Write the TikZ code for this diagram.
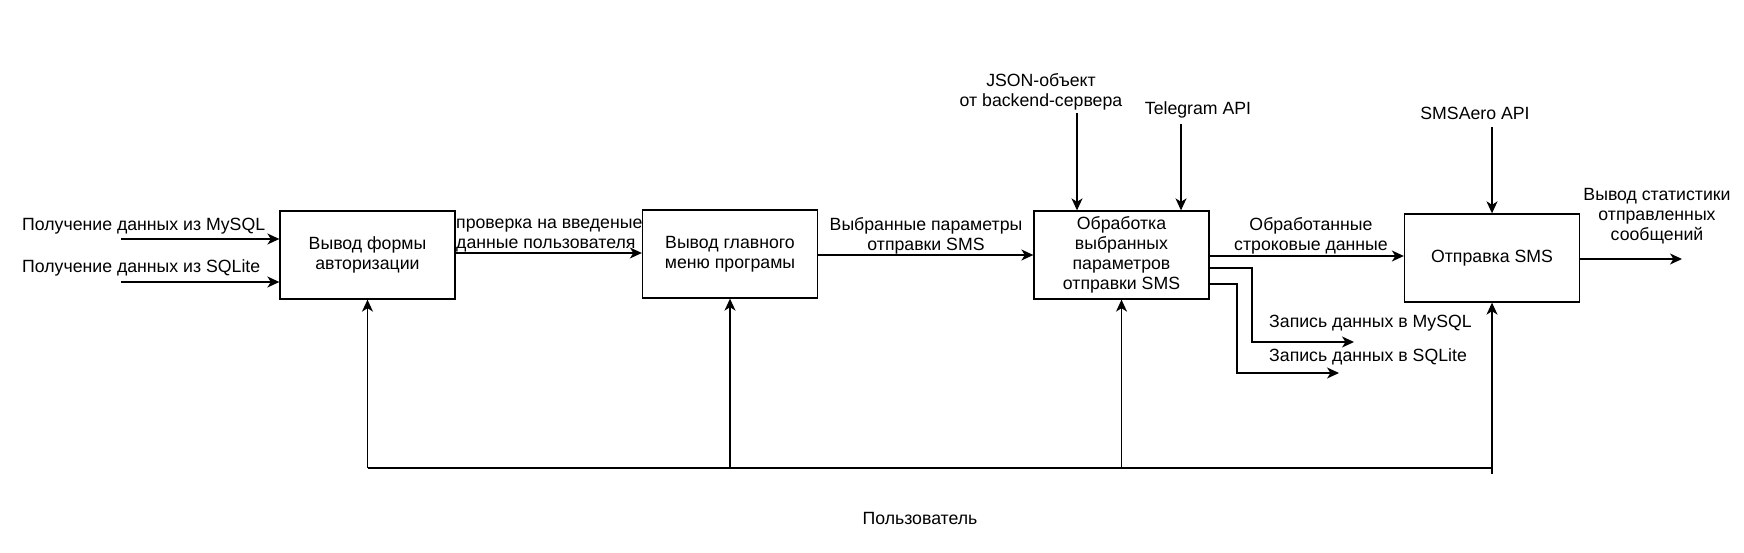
\documentclass[tikz,border=0pt]{standalone}
\usepackage{fontspec}
\setmainfont{Liberation Sans}
\usetikzlibrary{arrows.meta}
\tikzset{
  blk/.style={draw, line width=1.3pt, minimum width=175pt, minimum height=88pt, inner sep=2pt, align=center, font=\fontsize{17.7}{20}\selectfont},
  lbl/.style={inner sep=0pt, align=center, font=\fontsize{17.7}{20}\selectfont},
  lbll/.style={inner sep=0pt, align=left, font=\fontsize{17.7}{20}\selectfont},
  arr/.style={line width=1.5pt, -{Stealth[length=12pt,width=11pt,inset=3.5pt]}},
  ln/.style={line width=1.5pt},
}
\begin{document}
\begin{tikzpicture}[x=1pt,y=-1pt]
\useasboundingbox (0,0) rectangle (1744,553);
% blocks
\node[blk] (b1) at (367.5,255) {Вывод формы\\авторизации};
\node[blk] (b2) at (730,254) {Вывод главного\\меню програмы};
\node[blk] (b3) at (1121.5,255) {Обработка\\выбранных\\параметров\\отправки SMS};
\node[blk] (b4) at (1492,258) {Отправка SMS};
% inputs
\coordinate (in1) at (121,239);
\coordinate (in2) at (121,282);
\draw[arr] (in1) -- (in1 -| b1.west);
\draw[arr] (in2) -- (in2 -| b1.west);
\node[lbll, anchor=west] (lin1) at (22,226) {Получение данных из MySQL};
\node[lbll, anchor=west] (lin2) at (22,268) {Получение данных из SQLite};
% b1 -> b2
\draw[arr] ([yshift=2pt]b1.east) -- ([yshift=2pt]b1.east -| b2.west);
\node[lbll, anchor=west] (l12) at (456,235.5) {проверка на введеные\\данные пользователя};
% b2 -> b3
\draw[arr] ([yshift=-1pt]b2.east) -- ([yshift=-1pt]b2.east -| b3.west);
\node[lbl] (l23) at (926,235.5) {Выбранные параметры\\отправки SMS};
% controls on b3
\coordinate (json) at (1077,113);
\coordinate (tg) at (1181,124);
\draw[arr] (json) -- (json |- b3.north);
\draw[arr] (tg) -- (tg |- b3.north);
\node[lbl] (ljson) at (1041,92) {JSON-объект\\от backend-сервера};
\node[lbl] (ltg) at (1198,110) {Telegram API};
% b3 -> b4
\draw[arr] ([yshift=-1pt]b3.east) -- ([yshift=-1pt]b3.east -| b4.west);
\node[lbl] (l34) at (1311,236) {Обработанные\\строковые данные};
% b3 outputs to DB
\coordinate (mysqlend) at (1354,342);
\coordinate (sqliteend) at (1339,373);
\draw[arr] ([yshift=-13pt]b3.east) -| (1252,342) -- (mysqlend);
\draw[arr] ([yshift=-29pt]b3.east) -| (1237,373) -- (sqliteend);
\node[lbll, anchor=west] (lmy) at (1269,323) {Запись данных в MySQL};
\node[lbll, anchor=west] (lsq) at (1269,357) {Запись данных в SQLite};
% SMSAero
\coordinate (aero) at (1492,127);
\draw[arr] (aero) -- (b4.north);
\node[lbl] (laero) at (1475,113) {SMSAero API};
% output
\coordinate (outend) at (1682,259);
\draw[arr] ([yshift=-1pt]b4.east) -- (outend);
\node[lbl] (lout) at (1657,216) {Вывод статистики\\отправленных\\сообщений};
% mechanism (user)
\coordinate (bl) at (367.5,468);
\coordinate (br) at (1492,468);
\draw[ln] (bl) -- (br) -- ++(0,6);
\draw[arr] (bl) -- (b1.south);
\draw[arr] (b2.south |- bl) -- (b2.south);
\draw[arr] (b3.south |- bl) -- (b3.south);
\draw[arr] (br) -- (b4.south);
\node[lbl] (luser) at (920,518) {Пользователь};
\end{tikzpicture}
\end{document}
